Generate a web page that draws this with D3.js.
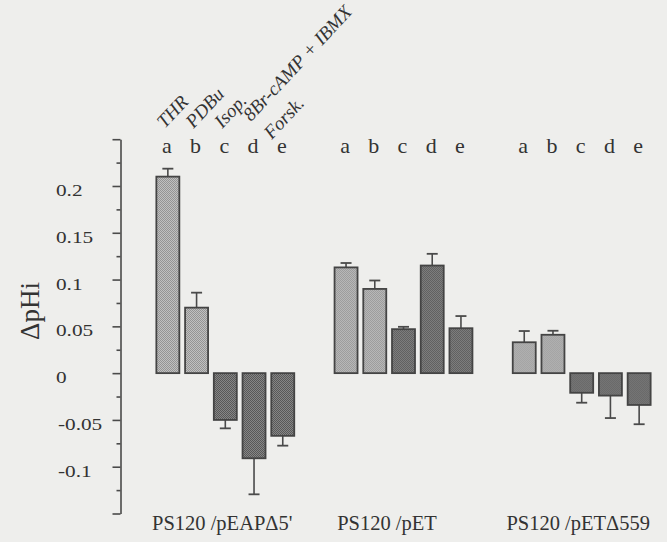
<!DOCTYPE html>
<html>
<head>
<meta charset="utf-8">
<script src="https://cdn.jsdelivr.net/npm/d3@7"></script>
<style>
  body { margin: 0; background: #eeeeec; }
  text { font-family: "Liberation Serif", "Times New Roman", serif; fill: #333; }
</style>
</head>
<body>
<script>
// data
var groups = ["PS120 /pEAP\u03945'", "PS120 /pET", "PS120 /pET\u0394559"];
var letters = ["a", "b", "c", "d", "e"];
var treatments = ["THR", "PDBu", "Isop.", "8Br-cAMP + IBMX", "Forsk."];
var values = [
  [0.210, 0.070, -0.050, -0.091, -0.067],
  [0.113, 0.090, 0.047, 0.115, 0.048],
  [0.033, 0.041, -0.021, -0.024, -0.034]
];
var errors = [
  [0.0085, 0.016, 0.009, 0.0385, 0.0105],
  [0.0047, 0.009, 0.0025, 0.0125, 0.013],
  [0.012, 0.0043, 0.0106, 0.024, 0.0206]
];
var majorTicks = [0.2, 0.15, 0.1, 0.05, 0, -0.05, -0.1];
var tickLabels = ["0.2", "0.15", "0.1", "0.05", "0", "-0.05", "-0.1"];

var W = 667, H = 542;

var svg = d3.select("body").append("svg")
    .attr("width", W)
    .attr("height", H);

svg.append("rect").attr("width", W).attr("height", H).attr("fill", "#eeeeec");

// stipple patterns
var defs = svg.append("defs");
function stipple(id, base, dot) {
  var p = defs.append("pattern")
      .attr("id", id)
      .attr("width", 2).attr("height", 2)
      .attr("patternUnits", "userSpaceOnUse");
  p.append("rect").attr("width", 2).attr("height", 2).attr("fill", base);
  p.append("rect").attr("width", 1).attr("height", 1).attr("fill", dot);
  p.append("rect").attr("x", 1).attr("y", 1).attr("width", 1).attr("height", 1).attr("fill", dot);
}
stipple("light", "#c0c0c0", "#949494");
stipple("dark", "#868686", "#585858");

// scales
var y = d3.scaleLinear().domain([-0.15, 0.25]).range([513.5, 139.2]);
var x0 = d3.scaleBand().domain(groups).range([142, 665]).paddingInner(0.065);
var x1 = d3.scaleBand().domain(letters).range([0, x0.bandwidth()])
    .paddingInner(0.2).paddingOuter(0.5);

var axisX = 120.5;

// y axis: line + ticks every 0.025
var axis = d3.axisLeft(y)
    .tickValues(d3.range(-0.15, 0.2501, 0.025))
    .tickSize(4)
    .tickSizeOuter(0)
    .tickFormat("");
var ag = svg.append("g")
    .attr("transform", "translate(" + axisX + ",0)")
    .call(axis);
ag.select(".domain").attr("stroke", "#4a4a4a").attr("stroke-width", 1.6);
ag.selectAll(".tick line")
    .attr("stroke", "#4a4a4a").attr("stroke-width", 1.6)
    .attr("x2", function(d) {
      var k = Math.round(d * 1000) % 50;
      return k === 0 ? -8 : -4;
    });

// tick labels, left aligned like the original
svg.append("g").selectAll("g.lab")
    .data(majorTicks)
    .enter().append("g")
    .attr("class", "lab")
    .attr("transform", function(d) {
      return "translate(" + (d < 0 ? 58 : 56) + "," + (y(d) + 10) + ") scale(1.25,1)";
    })
    .append("text")
    .style("font-size", "17px")
    .text(function(d, i) { return tickLabels[i]; });

// y title
svg.append("text")
    .attr("transform", "translate(39," + 311 + ") rotate(-90)")
    .attr("text-anchor", "middle")
    .style("font-size", "27px")
    .text("\u0394pHi");

// group label offsets from band start (labels are not centred in the original)
var labelShift = [10, 17, 8];

var gg = svg.selectAll("g.grp")
    .data(groups)
    .enter().append("g")
    .attr("class", "grp")
    .attr("transform", function(d) { return "translate(" + x0(d) + ",0)"; });

gg.each(function(gname, gi) {
  var g = d3.select(this);
  var rows = letters.map(function(l, i) {
    return {letter: l, v: values[gi][i], e: errors[gi][i]};
  });

  // error bars (only the side away from zero)
  rows.forEach(function(r) {
    var cx = x1(r.letter) + x1.bandwidth() / 2;
    var tip = r.v >= 0 ? r.v + r.e : r.v - r.e;
    g.append("line")
        .attr("x1", cx).attr("x2", cx)
        .attr("y1", y(r.v)).attr("y2", y(tip))
        .attr("stroke", "#4a4a4a").attr("stroke-width", 1.6);
    g.append("line")
        .attr("x1", cx - 5.5).attr("x2", cx + 5.5)
        .attr("y1", y(tip)).attr("y2", y(tip))
        .attr("stroke", "#4a4a4a").attr("stroke-width", 1.8);
  });

  g.selectAll("rect.bar")
      .data(rows)
      .enter().append("rect")
      .attr("class", "bar")
      .attr("x", function(d) { return x1(d.letter); })
      .attr("width", x1.bandwidth())
      .attr("y", function(d) { return y(Math.max(0, d.v)); })
      .attr("height", function(d) { return Math.abs(y(d.v) - y(0)); })
      .attr("fill", function(d, i) { return i < 2 ? "url(#light)" : "url(#dark)"; })
      .attr("stroke", "#444")
      .attr("stroke-width", 1.8);

  // letters above
  g.selectAll("text.let")
      .data(letters)
      .enter().append("text")
      .attr("class", "let")
      .attr("x", function(d) { return x1(d) + x1.bandwidth() / 2 - 1; })
      .attr("y", 153)
      .attr("text-anchor", "middle")
      .style("font-size", "22px")
      .text(function(d) { return d; });

  // group label
  g.append("text")
      .attr("x", labelShift[gi])
      .attr("y", 530)
      .style("font-size", "20.5px")
      .text(gname);
});

// rotated treatment names over the first group
var first = groups[0];
svg.append("g").selectAll("text.trt")
    .data(treatments)
    .enter().append("text")
    .attr("class", "trt")
    .attr("transform", function(d, i) {
      var cx = x0(first) + x1(letters[i]) + x1.bandwidth() / 2 - 3;
      var by = i === 3 ? 122 : (i === 4 ? 140 : 129);
      if (i === 4) cx -= 8;
      return "translate(" + cx + "," + by + ") rotate(-47)";
    })
    .style("font-size", "19px")
    .style("font-style", "italic")
    .text(function(d) { return d; });
</script>
</body>
</html>
